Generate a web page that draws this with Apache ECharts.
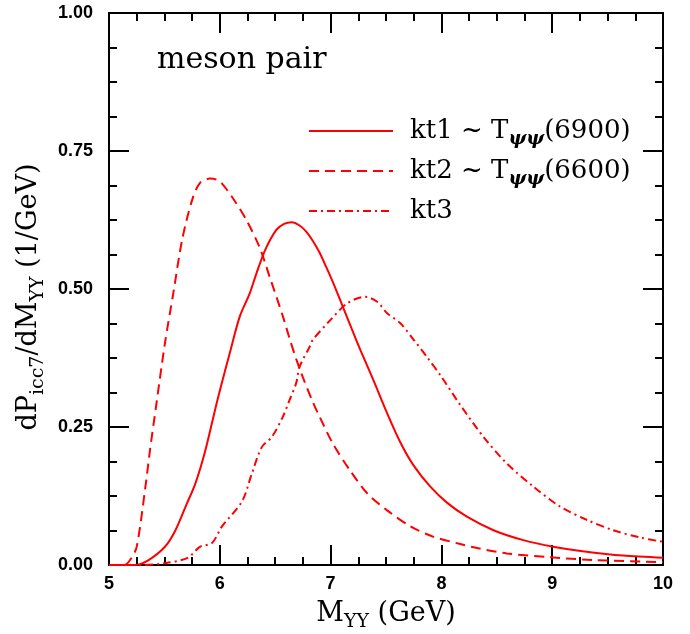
<!DOCTYPE html>
<html>
<head>
<meta charset="utf-8">
<script src="https://cdn.jsdelivr.net/npm/echarts@6/dist/echarts.min.js"></script>
<style>
  html, body { margin: 0; padding: 0; background: #fff; }
  #chart { width: 690px; height: 634px; }
</style>
</head>
<body>
<div id="chart"></div>
<script>
// curves, [M (GeV), dP/dM]
var kt1 = [[5.0,0],[5.23,0],[5.35,0.008],[5.505,0.033],[5.6,0.063],[5.7,0.11],[5.78,0.148],[5.87,0.208],[5.98,0.30],
    [6.09,0.384],[6.18,0.45],[6.27,0.492],[6.33,0.528],[6.41,0.571],[6.51,0.607],[6.58,0.618],[6.65,0.621],[6.72,0.615],
    [6.78,0.604],[6.84,0.587],[6.90,0.566],[6.96,0.540],[7.03,0.508],[7.11,0.468],[7.19,0.428],[7.27,0.389],[7.39,0.333],
    [7.51,0.275],[7.63,0.222],[7.75,0.180],[7.90,0.142],[8.05,0.113],[8.23,0.0875],[8.47,0.063],
    [8.74,0.045],[9.01,0.033],[9.31,0.024],[9.64,0.017],[10,0.013]];
var kt2 = [[5.0,0],[5.14,0],[5.2,0.012],[5.25,0.033],[5.325,0.136],[5.37,0.208],[5.43,0.295],[5.505,0.402],[5.58,0.492],
    [5.66,0.589],[5.75,0.661],[5.82,0.692],[5.91,0.700],[5.97,0.698],[6.02,0.691],[6.12,0.664],[6.24,0.625],[6.36,0.575],
    [6.45,0.522],[6.57,0.45],[6.63,0.410],[6.69,0.373],[6.75,0.340],[6.84,0.295],[6.90,0.269],[7.02,0.220],[7.18,0.170],
    [7.33,0.130],[7.51,0.099],[7.72,0.070],[7.93,0.051],[8.17,0.038],[8.29,0.032],[8.59,0.021],[8.98,0.014],[9.37,0.009],[10,0.005]];
var kt3 = [[5.0,0],[5.3,0],[5.5,0.003],[5.71,0.013],[5.82,0.033],[5.93,0.04],[6.02,0.07],[6.2,0.115],[6.29,0.166],
    [6.38,0.214],[6.47,0.232],[6.57,0.269],[6.63,0.299],[6.69,0.33],[6.72,0.359],[6.81,0.395],[6.84,0.408],[6.99,0.442],
    [7.15,0.474],[7.31,0.486],[7.42,0.477],[7.51,0.456],[7.63,0.438],[7.75,0.408],[7.87,0.377],[8.0,0.341],[8.17,0.290],
    [8.38,0.232],[8.59,0.184],[8.83,0.142],[9.07,0.106],[9.31,0.082],[9.55,0.063],[9.79,0.050],[10,0.042]];
var seriesNames = ['kt1', 'kt2', 'kt3'];
var legendLabels = {
    kt1: '{a|kt1 ~ T}{s|ψψ}{a|(6900)}',
    kt2: '{a|kt2 ~ T}{s|ψψ}{a|(6600)}',
    kt3: '{a|kt3}'
};

var chart = echarts.init(document.getElementById('chart'));
var serif = '"DejaVu Serif", serif';
var sans = '"Liberation Sans Narrow", "Liberation Sans", sans-serif';

//rich styles for the axis titles (main text + subscript)
var nameRich = {
    a: { fontFamily: serif, fontSize: 27, color: '#000', lineHeight: 36, verticalAlign: 'middle' },
    s: { fontFamily: serif, fontSize: 19, color: '#000', lineHeight: 19, verticalAlign: 'bottom' }
};

//common look of the framed axes
function frameAxis(pos, labels, min, max, interval) {
    return {
        type: 'value',
        position: pos,
        min: min,
        max: max,
        interval: interval,
        axisLine: { onZero: false, lineStyle: { color: '#000', width: 2 } },
        axisTick: { inside: true, length: 20, lineStyle: { color: '#000', width: 2 } },
        minorTick: { show: true, splitNumber: 4, length: 8, lineStyle: { color: '#000', width: 2 } },
        splitLine: { show: false },
        axisLabel: labels ? {
            show: true,
            fontFamily: sans,
            fontWeight: 'bold',
            fontSize: 18,
            color: '#000',
            margin: interval < 1 ? 16 : 10,
            formatter: interval < 1 ? function (v) { return v.toFixed(2); } : '{value}'
        } : { show: false }
    };
}

var xBottom = frameAxis('bottom', true, 5, 10, 1);
xBottom.name = '{a|M}{s|YY}{a| (GeV)}';
xBottom.nameLocation = 'middle';
xBottom.nameGap = 31;
xBottom.nameTextStyle = { rich: nameRich };
var yLeft = frameAxis('left', true, 0, 1, 0.25);
yLeft.name = '{a|dP}{s|icc7}{a|/dM}{s|YY}{a| (1/GeV)}';
yLeft.nameLocation = 'middle';
yLeft.nameRotate = 90;
yLeft.nameGap = 53;
yLeft.nameTextStyle = { rich: nameRich, padding: [0, 16, 0, 0] };

var option = {
    animation: false,
    backgroundColor: '#fff',
    title: {
        text: 'meson pair',
        left: 152,
        top: 40,
        textStyle: { fontFamily: serif, fontSize: 30, fontWeight: 'normal', color: '#000' }
    },
    legend: {
        data: seriesNames,
        orient: 'vertical',
        left: 303,
        top: 113,
        itemWidth: 84,
        itemHeight: 30,
        itemGap: 9,
        inactiveColor: '#f00',
        itemStyle: { opacity: 0 },
        formatter: function (name) { return legendLabels[name]; },
        textStyle: {
            padding: [0, 0, 0, 12],
            rich: {
                a: { fontFamily: serif, fontSize: 26, color: '#000', lineHeight: 36, verticalAlign: 'middle' },
                s: { fontFamily: serif, fontSize: 19, fontStyle: 'italic', fontWeight: 'bold', color: '#000', lineHeight: 19, verticalAlign: 'bottom' }
            }
        }
    },
    grid: { left: 109, right: 27, top: 13, bottom: 69, outerBoundsMode: 'none' },
    xAxis: [xBottom, frameAxis('top', false, 5, 10, 1)],
    yAxis: [yLeft, frameAxis('right', false, 0, 1, 0.25)],
    series: [
        {
            name: 'kt1', type: 'line', data: kt1, smooth: 0.3, showSymbol: false, symbol: 'none',
            lineStyle: { color: '#f00', width: 2, type: 'solid' }, itemStyle: { color: '#f00' }
        },
        {
            name: 'kt2', type: 'line', data: kt2, smooth: 0.3, showSymbol: false, symbol: 'none',
            lineStyle: { color: '#f00', width: 2, type: [10, 6] }, itemStyle: { color: '#f00' }
        },
        {
            name: 'kt3', type: 'line', data: kt3, smooth: 0.3, showSymbol: false, symbol: 'none',
            lineStyle: { color: '#f00', width: 2, type: [8, 4, 2, 4] }, itemStyle: { color: '#f00' }
        }
    ]
};
chart.setOption(option);
</script>
</body>
</html>
